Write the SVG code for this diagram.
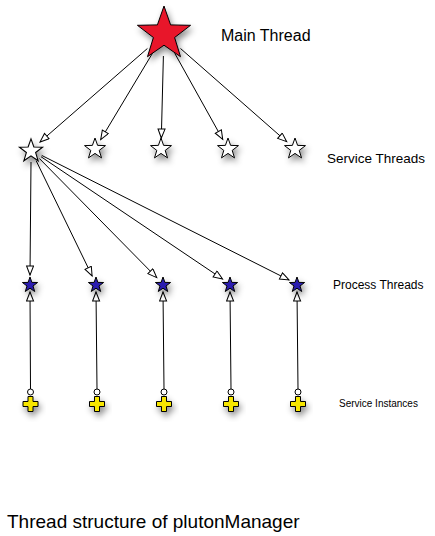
<svg xmlns="http://www.w3.org/2000/svg" width="435" height="536" viewBox="0 0 435 536">
<style>
text{font-family:"Liberation Sans",Arial,sans-serif;fill:#000}
.c{stroke:#000;stroke-width:1;fill:none}
.ol{stroke:#000;stroke-width:1}
</style>
<defs>
<filter id="sh" x="-50%" y="-50%" width="200%" height="220%">
<feDropShadow dx="2" dy="4" stdDeviation="3" flood-color="#000" flood-opacity="0.45"/>
</filter>
<marker id="ah" markerUnits="userSpaceOnUse" markerWidth="12" markerHeight="10" refX="10" refY="4" orient="auto">
<path d="M1,0.5 L10,4 L1,7.5 Z" fill="#fff" stroke="#000" stroke-width="1"/>
</marker>
<path id="bigstar" d="M0,-28 L6.6,-9.1 L26.6,-8.7 L10.6,3.5 L16.5,22.7 L0,11.2 L-16.5,22.7 L-10.6,3.5 L-26.6,-8.7 L-6.6,-9.1 Z"/>
<path id="sstar" d="M0,-11 L2.6,-3.6 L10.5,-3.4 L4.2,1.4 L6.5,8.9 L0,4.4 L-6.5,8.9 L-4.2,1.4 L-10.5,-3.4 L-2.6,-3.6 Z"/>
<path id="pstar" d="M0,-8 L1.9,-2.6 L7.6,-2.5 L3,1 L4.7,6.5 L0,3.2 L-4.7,6.5 L-3,1 L-7.6,-2.5 L-1.9,-2.6 Z"/>
<path id="cross" d="M-2.5,-7.5 h5 v5 h5 v5 h-5 v5 h-5 v-5 h-5 v-5 h5 Z"/>
</defs>

<g id="connectors">
<line class="c" x1="147.4" y1="48.5" x2="40" y2="142" marker-end="url(#ah)"/>
<line class="c" x1="152.7" y1="52.9" x2="100.7" y2="139.6" marker-end="url(#ah)"/>
<line class="c" x1="163.4" y1="56" x2="161.3" y2="138" marker-end="url(#ah)"/>
<line class="c" x1="174.7" y1="53.2" x2="222.7" y2="139.4" marker-end="url(#ah)"/>
<line class="c" x1="180.5" y1="48.5" x2="286.7" y2="141.7" marker-end="url(#ah)"/>

<line class="c" x1="31" y1="162" x2="30" y2="275" marker-end="url(#ah)"/>
<line class="c" x1="36.2" y1="160.8" x2="92.1" y2="275.9" marker-end="url(#ah)"/>
<line class="c" x1="39.4" y1="158.5" x2="156.7" y2="277.6" marker-end="url(#ah)"/>
<line class="c" x1="41" y1="156.7" x2="222.5" y2="279" marker-end="url(#ah)"/>
<line class="c" x1="41.7" y1="155.4" x2="289" y2="280" marker-end="url(#ah)"/>

<line class="c" x1="30.5" y1="389" x2="30" y2="292" marker-end="url(#ah)"/>
<line class="c" x1="97" y1="389" x2="96" y2="292" marker-end="url(#ah)"/>
<line class="c" x1="164" y1="389" x2="163" y2="292" marker-end="url(#ah)"/>
<line class="c" x1="231" y1="389" x2="230" y2="292" marker-end="url(#ah)"/>
<line class="c" x1="298" y1="389" x2="297" y2="292" marker-end="url(#ah)"/>
<circle class="ol" cx="30.5" cy="392" r="3" fill="#fff"/>
<circle class="ol" cx="97" cy="392" r="3" fill="#fff"/>
<circle class="ol" cx="164" cy="392" r="3" fill="#fff"/>
<circle class="ol" cx="231" cy="392" r="3" fill="#fff"/>
<circle class="ol" cx="298" cy="392" r="3" fill="#fff"/>
</g>

<g id="main-thread"><use href="#bigstar" x="164" y="34" fill="#e8132b" class="ol" filter="url(#sh)"/></g>

<g id="service-1"><use href="#sstar" x="31" y="151" fill="#fff" class="ol" filter="url(#sh)" transform="translate(31 151) scale(1.1) translate(-31 -151)"/></g>
<g id="service-2"><use href="#sstar" x="95" y="149" fill="#fff" class="ol" filter="url(#sh)"/></g>
<g id="service-3"><use href="#sstar" x="161" y="149" fill="#fff" class="ol" filter="url(#sh)"/></g>
<g id="service-4"><use href="#sstar" x="228" y="149" fill="#fff" class="ol" filter="url(#sh)"/></g>
<g id="service-5"><use href="#sstar" x="295" y="149" fill="#fff" class="ol" filter="url(#sh)"/></g>

<g id="process-1"><use href="#pstar" x="30" y="285" fill="#2a1bb0" class="ol" filter="url(#sh)"/></g>
<g id="process-2"><use href="#pstar" x="96" y="285" fill="#2a1bb0" class="ol" filter="url(#sh)"/></g>
<g id="process-3"><use href="#pstar" x="163" y="285" fill="#2a1bb0" class="ol" filter="url(#sh)"/></g>
<g id="process-4"><use href="#pstar" x="230" y="285" fill="#2a1bb0" class="ol" filter="url(#sh)"/></g>
<g id="process-5"><use href="#pstar" x="297" y="285" fill="#2a1bb0" class="ol" filter="url(#sh)"/></g>

<g id="instance-1"><use href="#cross" x="30.5" y="404" fill="#f7e600" class="ol" filter="url(#sh)"/></g>
<g id="instance-2"><use href="#cross" x="97" y="404" fill="#f7e600" class="ol" filter="url(#sh)"/></g>
<g id="instance-3"><use href="#cross" x="164" y="404" fill="#f7e600" class="ol" filter="url(#sh)"/></g>
<g id="instance-4"><use href="#cross" x="231" y="404" fill="#f7e600" class="ol" filter="url(#sh)"/></g>
<g id="instance-5"><use href="#cross" x="298" y="404" fill="#f7e600" class="ol" filter="url(#sh)"/></g>

<g id="labels">
<text x="221" y="41" font-size="16">Main Thread</text>
<text x="327" y="163" font-size="13.5">Service Threads</text>
<text x="333" y="289" font-size="12">Process Threads</text>
<text x="339" y="407" font-size="10">Service Instances</text>
<text x="7" y="528" font-size="19">Thread structure of plutonManager</text>
</g>
</svg>
